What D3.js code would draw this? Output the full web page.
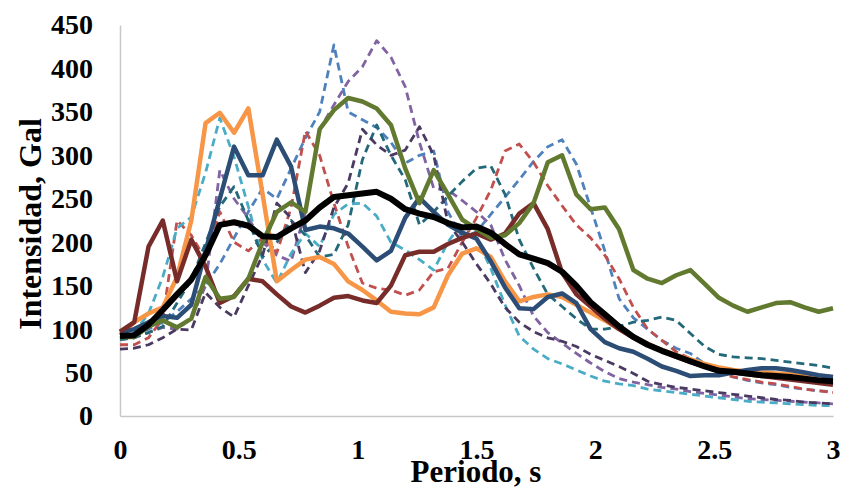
<!DOCTYPE html>
<html>
<head>
<meta charset="utf-8">
<script src="https://cdn.jsdelivr.net/npm/d3@7"></script>
<style>
  html, body { margin: 0; padding: 0; background: #ffffff; }
  svg { display: block; }
</style>
</head>
<body>
<svg id="chart" width="841" height="489"></svg>
<script>
// ---- DATA ----
const periods = [0,0.06,0.12,0.18,0.24,0.30,0.36,0.42,0.48,0.54,0.60,0.66,0.72,0.78,0.84,0.90,0.96,1.02,1.08,1.14,1.20,1.26,1.32,1.38,1.44,1.50,1.56,1.62,1.68,1.74,1.80,1.86,1.92,1.98,2.04,2.10,2.16,2.22,2.28,2.34,2.40,2.46,2.52,2.58,2.64,2.70,2.76,2.82,2.88,2.94,3.00];

const blueDash = [90,93,100,108,120,135,150,175,205,235,262,250,285,320,350,427,350,341,332,315,291,300,305,235,205,212,232,252,272,293,310,318,290,240,190,135,113,100,87,78,72,60,50,45,41,38,36,33,31,29,28];
const redDash = [82,82,90,112,225,208,180,235,200,190,205,188,240,328,300,245,195,153,147,145,139,145,166,170,200,228,260,305,313,292,265,242,220,205,185,158,125,100,87,74,66,58,50,45,42,39,37,34,31,29,27];
const purpleDash = [88,90,96,102,100,112,150,283,250,228,200,185,178,235,330,358,385,402,432,413,379,315,262,260,248,235,220,180,150,115,96,84,72,61,51,43,39,36,33,31,28,26,24,22,20,19,18,17,16,15,14];
const cyanDash = [90,96,118,160,216,229,280,343,298,241,180,153,187,210,195,232,244,245,230,200,191,180,168,200,223,205,170,128,92,77,66,60,53,46,40,37,35,31,29,27,25,23,21,19,17,16,15,14,13,12,12];
const tealDash = [88,90,96,103,130,157,199,241,264,225,183,200,225,208,183,186,220,295,335,300,272,220,235,253,270,285,288,255,203,170,140,126,112,100,100,103,108,110,114,110,95,80,71,68,67,66,64,62,60,58,55];
const darkPurpleDash = [77,78,82,90,100,99,142,125,114,150,185,245,228,165,190,240,268,330,312,300,306,333,300,222,200,175,152,125,108,97,90,86,80,71,64,57,49,40,36,33,31,29,27,25,23,21,19,18,16,15,14];

const orange = [93,108,118,125,160,225,337,349,326,354,255,155,168,180,183,175,155,145,133,120,118,117,125,162,187,193,183,155,132,137,140,137,128,119,110,100,91,83,76,70,65,60,56,53,51,50,49,48,47,46,45];
const darkBlue = [96,100,108,115,113,128,190,250,310,277,277,318,287,214,218,216,210,195,179,190,228,251,235,220,211,204,178,148,124,123,137,141,130,100,85,78,74,66,57,52,46,47,47,50,53,55,55,53,50,47,45];
const darkRed = [97,108,195,225,155,203,172,130,138,158,155,140,126,119,127,136,138,133,130,150,185,189,189,198,205,210,203,210,233,245,215,165,140,126,112,100,90,82,75,68,62,57,53,50,48,46,44,42,40,38,36];
const green = [91,91,103,110,102,112,160,135,137,158,200,235,246,235,330,352,366,362,354,335,285,245,283,255,226,215,205,208,222,245,292,300,255,238,240,215,168,158,153,162,168,152,136,127,120,125,130,131,125,120,124];
const mean = [92,93,105,122,140,157,185,220,223,219,207,206,216,225,240,252,254,256,258,250,238,233,229,222,217,218,211,198,186,181,176,166,150,131,117,103,91,82,75,69,63,57,52,51,49,47,46,45,43,41,40];

const xTicks = [0, 0.5, 1, 1.5, 2, 2.5, 3];
const xTickLabels = ["0", "0.5", "1", "1.5", "2", "2.5", "3"];
const yTicks = [0, 50, 100, 150, 200, 250, 300, 350, 400, 450];
const xTitle = "Periodo, s";
const yTitle = "Intensidad, Gal";

// series list (drawing order, styles)
const seriesList = [
  { values: blueDash, color: "#4F81BD", width: 2.8, dash: "8,5" },
  { values: redDash, color: "#C0504D", width: 2.8, dash: "8,5" },
  { values: purpleDash, color: "#8064A2", width: 2.8, dash: "8,5" },
  { values: cyanDash, color: "#4BACC6", width: 2.8, dash: "8,5" },
  { values: tealDash, color: "#23697A", width: 2.8, dash: "8,5" },
  { values: darkPurpleDash, color: "#4A3A61", width: 2.8, dash: "8,5" },
  { values: orange, color: "#F79646", width: 4.5, dash: null },
  { values: darkBlue, color: "#2C4D75", width: 4.5, dash: null },
  { values: darkRed, color: "#772C2A", width: 4.5, dash: null },
  { values: green, color: "#627A30", width: 4.5, dash: null },
  { values: mean, color: "#000000", width: 6, dash: null }
];

// ---- CHART ----
const svg = d3.select("#chart");
const x = d3.scaleLinear().domain([0, 3]).range([120, 833]);
const y = d3.scaleLinear().domain([0, 450]).range([416, 25]);

const fontFam = "'Liberation Serif', 'Times New Roman', serif";

// axes
const yAxis = svg.append("g")
  .attr("transform", "translate(120,0)")
  .call(d3.axisLeft(y).tickValues(yTicks).tickSize(0).tickSizeOuter(0).tickPadding(27));
yAxis.select(".domain").attr("stroke", "#C8C8C8").attr("stroke-width", 1.5);
yAxis.selectAll("text")
  .attr("font-family", fontFam).attr("font-weight", "bold")
  .attr("font-size", 28).attr("fill", "#000");

const xAxis = svg.append("g")
  .attr("transform", "translate(0,416)")
  .call(d3.axisBottom(x).tickValues(xTicks).tickSize(0).tickSizeOuter(0).tickPadding(23)
    .tickFormat((d, i) => xTickLabels[i]));
xAxis.select(".domain").attr("stroke", "#C8C8C8").attr("stroke-width", 1.5);
xAxis.selectAll("text")
  .attr("font-family", fontFam).attr("font-weight", "bold")
  .attr("font-size", 28).attr("fill", "#000");

// lines
const line = d3.line()
  .x((d, i) => x(periods[i]))
  .y(d => y(d));

const linesG = svg.append("g");
seriesList.forEach(s => {
  const p = linesG.append("path")
    .datum(s.values)
    .attr("d", line)
    .attr("fill", "none")
    .attr("stroke", s.color)
    .attr("stroke-width", s.width)
    .attr("stroke-linejoin", "round");
  if (s.dash) p.attr("stroke-dasharray", s.dash);
});

// titles
svg.append("text")
  .attr("x", 476).attr("y", 482)
  .attr("text-anchor", "middle")
  .attr("font-family", fontFam).attr("font-weight", "bold")
  .attr("font-size", 31).attr("fill", "#000")
  .text(xTitle);

svg.append("text")
  .attr("transform", "translate(41,224) rotate(-90)")
  .attr("text-anchor", "middle")
  .attr("font-family", fontFam).attr("font-weight", "bold")
  .attr("font-size", 32).attr("fill", "#000")
  .text(yTitle);
</script>
</body>
</html>
